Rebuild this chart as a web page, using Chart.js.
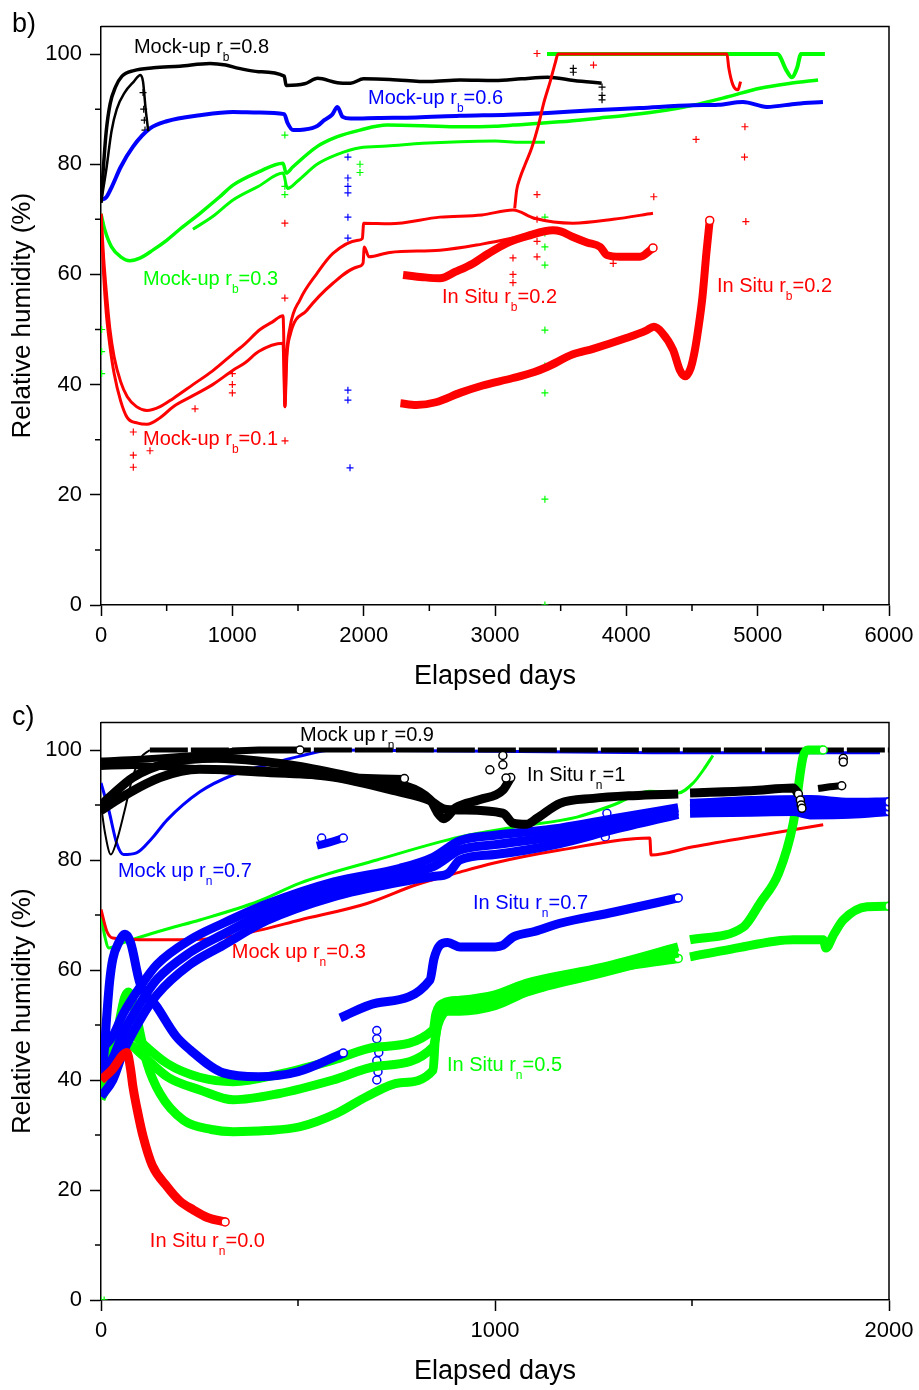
<!DOCTYPE html>
<html>
<head>
<meta charset="utf-8">
<script src="https://cdn.jsdelivr.net/npm/chart.js@4.4.1/dist/chart.umd.min.js"></script>
<style>
  body { margin: 0; background: #fff; width: 919px; height: 1390px; overflow: hidden; }
  .panel { position: absolute; left: 0; width: 919px; height: 695px; }
</style>
</head>
<body>
<div class="panel" style="top:0"><canvas id="chartB" width="919" height="695"></canvas></div>
<div class="panel" style="top:695px"><canvas id="chartC" width="919" height="695"></canvas></div>
<script>
const FONT = "'Liberation Sans', Arial, sans-serif";
const RED = '#ff0000', GREEN = '#00ff00', BLUE = '#0000ff', BLACK = '#000000';

// ---------- panel b) data : [elapsed day, RH %] ----------
const bMock08 = [[0,73],[20,80],[40,86],[70,91],[110,94],[160,96],[250,97],[400,97.5],[600,97.8],[830,98.3],[950,98],[1050,97.4],[1200,96.8],[1395,96],[1410,94.3],[1550,94.6],[1650,95.6],[1800,94.8],[1900,94.7],[2000,95.5],[2200,95.4],[2500,95],[2733,95.3],[3000,95.2],[3200,95.5],[3400,95.8],[3600,95.2],[3812,94.7]];
const bMock08early = [[0,73],[40,79],[80,86],[120,90],[180,93],[250,95],[300,96.2],[320,95],[340,90],[360,86]];
const bMock06 = [[0,73.5],[40,74],[84,76],[150,79.5],[244,83.2],[373,86.5],[500,87.8],[754,88.9],[1005,89.5],[1200,89.4],[1395,89.1],[1420,87.5],[1462,86.2],[1550,86.3],[1650,87],[1700,88],[1760,89],[1800,90.4],[1840,88.6],[1900,88.3],[2110,88.4],[2400,88.5],[2733,88.8],[3100,89],[3400,89.3],[3746,89.8],[4100,90.2],[4507,90.7],[4700,90.8],[4888,91.3],[5070,90.4],[5300,91],[5497,91.3]];
const bMock03a = [[0,71],[30,68],[80,65],[150,63.2],[220,62.5],[300,63],[400,64.5],[500,66.2],[600,68.2],[754,71.1],[900,74],[1005,76.2],[1200,78.6],[1386,80.2],[1410,78.4],[1460,79.5],[1645,83.2],[1800,85],[1972,86.2],[2178,87.1],[2450,87],[2733,86.8],[3000,86.9],[3137,87.1],[3495,87.7],[3800,88.4],[4005,88.9],[4300,89.8],[4507,90.7],[4766,92.2],[5018,93.8],[5250,94.7],[5460,95.3]];
const bMock03b = [[700,68.2],[850,70.5],[1005,73.5],[1200,76],[1386,78.4],[1420,75.6],[1500,77],[1645,80],[1800,81.8],[1972,83],[2178,83.3],[2450,83.8],[2733,84.1],[3000,84.2],[3200,84],[3380,84]];
const bMock03c = [[3396,100],[4000,100],[4800,100],[5150,100],[5220,97],[5260,95.8],[5300,97.5],[5330,100],[5512,100]];
const bMock01a = [[0,71],[20,63],[40,57],[68,50],[100,45],[150,40.5],[200,37.8],[270,36],[350,35.3],[450,36],[550,37.5],[700,40],[850,42.5],[1000,45.5],[1100,47.5],[1211,50],[1300,51.3],[1386,52.5],[1395,44],[1400,36],[1410,44],[1440,50.5],[1515,55.4],[1645,60.2],[1766,63.8],[1957,66.2],[1990,66.5],[2000,69.3],[2200,69.2],[2581,70.4],[2900,70.8],[3137,71.7],[3300,70.2],[3594,69.3],[3900,70],[4203,71.1]];
const bMock01b = [[0,71],[20,60],[40,53],[68,47],[100,42],[150,37],[200,34],[280,33],[350,32.8],[450,34],[550,36],[700,38],[850,40],[1005,42.6],[1100,44],[1200,46],[1386,47.5],[1395,40],[1400,36],[1415,45],[1440,49],[1568,53.5],[1766,58.4],[1957,61.4],[1995,62],[2005,65],[2040,63.2],[2200,64],[2581,64.4],[2900,65.5],[3137,66.6],[3300,67.5],[3442,68]];
const bMock02 = [[3150,72],[3165,75.3],[3190,77.5],[3230,80],[3280,83],[3330,87],[3370,91],[3420,95],[3460,98.5],[3480,100],[4000,100],[4766,100],[4780,97.5],[4810,94.5],[4850,93.5],[4870,95]];
const bSitu02a = [[2300,59.9],[2450,59.5],[2581,59.3],[2700,60.5],[2833,62],[2950,63.8],[3091,65.7],[3250,67],[3442,68],[3500,67.8],[3594,66.8],[3700,65.8],[3800,65],[3853,63.5],[3950,63.2],[4104,63.2],[4203,64.8]];
const bSitu02b = [[2280,36.6],[2400,36.3],[2550,36.8],[2733,38.5],[2900,39.8],[3137,41.2],[3300,42.3],[3396,43.2],[3594,45.5],[3746,46.5],[4005,48.5],[4150,49.8],[4210,50.5],[4270,49.5],[4356,46.3],[4410,42.5],[4447,41.5],[4490,43],[4520,46],[4547,50],[4580,56],[4610,64],[4635,69.8]];
const bOutRed = [[246,31.4],[246,27.2],[246,25],[373,28],[716,35.6],[1000,42],[1000,40],[1000,38.5],[1401,29.8],[1400,69.3],[1400,55.7],[3137,63],[3137,60],[3137,58.5],[3320,74.5],[3320,70],[3320,66],[3320,63.2],[3320,100.1],[3750,98],[4209,74.1],[4531,84.5],[4903,86.8],[4900,81.3],[4910,69.6],[3900,62]];
const bOutBlue = [[1896,24.9],[1880,39],[1880,37.2],[1880,74.8],[1880,70.4],[1880,66.6],[1880,81.3],[1880,77.5],[1880,76]];
const bOutGreen = [[3380,0],[3380,19.2],[3380,38.5],[3380,43.4],[3380,49.9],[3380,61.7],[3380,65],[3380,67.5],[3380,70.4],[1400,85.3],[1400,76],[1400,74.5],[1972,80],[1972,78.5],[5,50],[5,46],[5,42]];
const bOutBlack = [[320,93],[325,90],[330,88],[335,86.2],[3596,97.4],[3596,96.7],[3815,94],[3815,92.5],[3815,91.7]];

// ---------- panel c) data ----------
const cMock09rise = [[0,90],[10,85],[25,81],[40,83.5],[60,89],[80,95],[100,98.5],[124,100]];
const cMock09top = [[124,100],[2000,100]];
const cMock07 = [[0,94],[20,89],[40,83],[57,81],[90,81.3],[130,84],[168,87.3],[251,92.4],[336,95.5],[421,97.3],[500,98.8],[589,100],[1400,99.5],[1977,99.5]];
const cMock05 = [[0,70],[10,66],[20,64],[50,64.8],[100,66],[170,67.5],[251,69.1],[400,72.5],[505,75.8],[700,80],[911,84.2],[1050,86],[1208,87.8],[1300,90],[1393,92.5],[1465,92.2],[1503,94],[1530,96.5],[1553,99]];
const cMock03 = [[0,71],[15,67],[30,65.8],[100,65.5],[200,65.5],[300,65.8],[400,67.2],[505,69.1],[675,72.1],[800,75.5],[911,77.8],[995,79.4],[1165,81.8],[1393,84],[1396,80.9],[1503,82.4],[1673,84.5],[1833,86.4]];
const cSitu1a = [[0,98],[100,98.3],[200,98.8],[300,99.5],[400,100],[505,100]];
const cSitu1b = [[0,97],[80,97.2],[200,96.8],[400,95.8],[600,95.2],[770,94.8]];
const cSitu1c = [[0,90],[23,91.5],[81,95],[168,97.6],[294,98.5],[400,98],[505,97],[675,94.5],[835,91],[855,88.5],[870,87.5],[900,89.5],[962,91],[1020,92.7],[1040,95]];
const cSitu1d = [[0,89],[50,91.3],[150,95],[250,96.5],[400,96.2],[589,95.1],[750,92.5],[835,90.8],[870,89.3],[911,89.1],[1020,88.5],[1046,86.7],[1080,86.5],[1107,87.6],[1165,90.3],[1249,91.2],[1350,91.7],[1465,92],[1480,null],[1495,92.2],[1650,92.6],[1757,93.1],[1770,92]];
const cSitu1e = [[1820,93],[1850,93.3],[1880,93.5]];
const cSitu07a = [[0,40],[8,45],[15,52],[22,58],[30,62],[45,65],[61,66.5],[75,65],[99,57.6],[142,53.3],[190,48],[226,45.5],[310,41.3],[400,40.6],[500,41.5],[615,44.9]];
const cSitu07b = [[0,45.5],[30,48],[56,52],[100,57],[142,61],[226,65.5],[310,68.5],[421,72],[589,76],[759,78.5],[843,80.5],[911,83.5],[1000,84.5],[1165,85.8],[1300,87.5],[1465,89.5],[1480,null],[1495,90.3],[1650,90.8],[1800,91],[1900,90.5],[2000,90.6]];
const cSitu07c = [[0,41],[30,44],[56,48.5],[100,54],[142,58.3],[226,63.2],[310,66.5],[421,70.5],[589,74.7],[759,77.3],[843,78.8],[911,81.8],[1000,82.8],[1165,84.4],[1300,86.5],[1465,88.9],[1480,null],[1495,89.4],[1650,89.8],[1800,89.6],[1900,89.4],[2000,89.7]];
const cSitu07d = [[0,37],[30,40],[56,45],[100,51],[142,55.5],[226,61],[310,64.5],[421,69],[589,73.3],[759,76],[843,77],[880,77.5],[911,80],[1000,81],[1165,83],[1300,85.5],[1465,88.3],[1480,null],[1495,88.5],[1650,88.7],[1757,88.8],[1800,88.2],[1900,88.3],[2000,88.8]];
const cSitu07e = [[607,51.3],[700,54],[835,58.2],[845,62],[860,64.5],[880,65],[911,64.2],[1000,64.2],[1020,64.5],[1046,66],[1100,67],[1165,68.5],[1300,70.5],[1465,73.1]];
const cSitu07f = [[548,82.6],[580,83.2],[615,84]];
const cSitu05a = [[0,40],[30,46],[56,50],[100,47],[168,43],[250,40.5],[336,39.7],[450,41],[589,43.6],[700,46],[843,49.1],[850,52],[870,54],[911,54.5],[1000,55.5],[1081,57.6],[1274,60.5],[1465,64.2],[1480,null],[1495,65.5],[1630,67.8],[1673,72.2],[1720,77.6],[1757,86.7],[1782,98.8],[1795,100],[1833,100]];
const cSitu05b = [[0,38],[40,44],[70,46.5],[99,44.9],[170,40.5],[251,38.2],[336,36.4],[450,37.5],[589,40],[700,42.5],[843,46],[855,50],[880,52.5],[911,52.5],[1000,53.5],[1081,56],[1274,59.5],[1465,63.1],[1480,null],[1495,62.4],[1600,63.8],[1757,65.5],[1833,65.5],[1840,64],[1860,66.5],[1884,69.1],[1944,71.5],[2000,71.6]];
const cSitu05c = [[0,36.5],[20,40],[45,50],[60,55],[70,56],[85,53],[117,43],[150,37.5],[209,32.7],[280,31],[336,30.6],[420,30.8],[505,31.5],[600,34],[675,37],[760,39.5],[843,41.8],[848,47],[860,52],[880,53.5],[911,53.5],[1000,54],[1081,57],[1274,60],[1465,62.1]];
const cSitu00 = [[0,40],[30,42],[55,44.5],[66,45],[75,42],[81,38.8],[95,33.5],[107,29.7],[130,24.5],[168,20.6],[200,18],[234,16.4],[270,15],[315,14.2]];
const cRingBlack = [[987,96.4],[1020,99],[1020,97.3],[1028,94.9],[1884,98.5],[1884,97.8],[1775,90.9],[1777,90],[1779,89.4]];
const cRingBlue = [[1284,88.5],[1284,86.5],[1290,85.5],[1280,84.2],[700,49],[700,47.5],[705,45],[700,43.5],[703,41.5],[700,40],[560,84]];
const cDotGreen = [[0,0],[8,0]];

// ---------- axes ----------
const bTicksX = { max: 6000, step: 1000, minor: [500,1500,2500,3500,4500,5500] };
const cTicksX = { max: 2000, step: 1000, minor: [500,1500] };
const minorY = [10,30,50,70,90];

// ---------- curve labels (anchor in data units) ----------
const bNotes = [
  { x: 251,  y: 100.2, a: 'Mock-up r', s: 'b', b: '=0.8', c: BLACK },
  { x: 2033, y: 90.9,  a: 'Mock-up r', s: 'b', b: '=0.6', c: BLUE },
  { x: 320,  y: 58.1,  a: 'Mock-up r', s: 'b', b: '=0.3', c: GREEN },
  { x: 320,  y: 29,    a: 'Mock-up r', s: 'b', b: '=0.1', c: RED },
  { x: 2596, y: 54.8,  a: 'In Situ r', s: 'b', b: '=0.2', c: RED },
  { x: 4690, y: 56.8,  a: 'In Situ r', s: 'b', b: '=0.2', c: RED }
];
const cNotes = [
  { x: 505,  y: 101.6, a: 'Mock up r', s: 'n', b: '=0.9', c: BLACK },
  { x: 1081, y: 94.4,  a: 'In Situ r', s: 'n', b: '=1',   c: BLACK },
  { x: 43,   y: 76.9,  a: 'Mock up r', s: 'n', b: '=0.7', c: BLUE },
  { x: 332,  y: 62.2,  a: 'Mock up r', s: 'n', b: '=0.3', c: RED },
  { x: 944,  y: 71.1,  a: 'In Situ r', s: 'n', b: '=0.7', c: BLUE },
  { x: 878,  y: 41.6,  a: 'In Situ r', s: 'n', b: '=0.5', c: GREEN },
  { x: 124,  y: 9.6,   a: 'In Situ r', s: 'n', b: '=0.0', c: RED }
];

const toXY = arr => arr.map(p => ({ x: p[0], y: p[1] }));

function trace(arr, color, width, extra) {
  return Object.assign({
    data: toXY(arr), showLine: true, borderColor: color, backgroundColor: color,
    borderWidth: width, pointRadius: 0, cubicInterpolationMode: 'monotone', spanGaps: false
  }, extra || {});
}
// in situ series end with an open circle
function situ(arr, color, width) {
  const last = arr.length - 1;
  return trace(arr, color, width, {
    pointRadius: c => c.dataIndex === last ? 4 : 0,
    pointBackgroundColor: '#fff', pointBorderColor: color, pointBorderWidth: 1.5
  });
}
function crosses(arr, color) {
  return { data: toXY(arr), showLine: false, pointStyle: 'cross', pointRadius: 3.5, borderColor: color, borderWidth: 1.2 };
}
function rings(arr, color) {
  return { data: toXY(arr), showLine: false, pointStyle: 'circle', pointRadius: 4, borderColor: color, backgroundColor: '#fff', borderWidth: 1.5 };
}
// list is back-to-front; lower order is drawn on top
function stack(list) {
  list.forEach((d, i) => { d.order = list.length - i; });
  return list;
}

const framePlugin = {
  id: 'frame',
  afterDraw(chart, args, o) {
    const { ctx, chartArea: a } = chart;
    const x = chart.scales.x, y = chart.scales.y;
    ctx.save();
    ctx.strokeStyle = '#000';
    ctx.lineWidth = 1.5;
    ctx.beginPath();
    ctx.moveTo(a.left, a.top); ctx.lineTo(a.right, a.top); ctx.lineTo(a.right, a.bottom);
    o.minorX.forEach(v => { const p = x.getPixelForValue(v); ctx.moveTo(p, a.bottom); ctx.lineTo(p, a.bottom + 6); });
    o.minorY.forEach(v => { const p = y.getPixelForValue(v); ctx.moveTo(a.left, p); ctx.lineTo(a.left - 6, p); });
    ctx.stroke();
    ctx.fillStyle = '#000';
    ctx.font = '27px ' + FONT;
    ctx.textBaseline = 'alphabetic';
    ctx.fillText(o.tag, 12, o.tagY);
    ctx.restore();
  }
};

const notesPlugin = {
  id: 'notes',
  afterDatasetsDraw(chart, args, o) {
    const { ctx } = chart;
    const x = chart.scales.x, y = chart.scales.y;
    ctx.save();
    ctx.textBaseline = 'alphabetic';
    o.items.forEach(n => {
      let px = x.getPixelForValue(n.x);
      const py = y.getPixelForValue(n.y);
      ctx.fillStyle = n.c;
      ctx.font = '20px ' + FONT;
      ctx.fillText(n.a, px, py);
      px += ctx.measureText(n.a).width;
      ctx.font = '12px ' + FONT;
      ctx.fillText(n.s, px, py + 8);
      px += ctx.measureText(n.s).width;
      ctx.font = '20px ' + FONT;
      ctx.fillText(n.b, px, py);
    });
    ctx.restore();
  }
};

function makeChart(id, datasets, tx, notes, tag, tagY, padTop) {
  return new Chart(document.getElementById(id), {
    type: 'scatter',
    data: { datasets },
    plugins: [framePlugin, notesPlugin],
    options: {
      responsive: false,
      animation: false,
      layout: { padding: { top: padTop, right: 30, bottom: 2, left: 0 } },
      plugins: {
        legend: { display: false },
        tooltip: { enabled: false },
        frame: { minorX: tx.minor, minorY: minorY, tag: tag, tagY: tagY },
        notes: { items: notes }
      },
      scales: {
        x: {
          type: 'linear', min: 0, max: tx.max,
          afterFit: s => { s.height = 88; s.paddingRight = 0; },
          ticks: { stepSize: tx.step, color: '#000', padding: 7, font: { size: 22, family: FONT }, callback: v => String(v) },
          grid: { drawOnChartArea: false, drawTicks: true, tickLength: 11, tickColor: '#000', tickWidth: 1.5 },
          border: { display: true, color: '#000', width: 1.5 },
          title: { display: true, text: 'Elapsed days', color: '#000', font: { size: 27, family: FONT }, padding: { top: 0, bottom: 0 } }
        },
        y: {
          type: 'linear', min: 0, max: 105,
          afterFit: s => { s.width = 101; },
          afterBuildTicks: s => { s.ticks = s.ticks.filter(t => t.value % 20 === 0); },
          ticks: { stepSize: 20, color: '#000', padding: 8, font: { size: 22, family: FONT }, callback: v => String(v) },
          grid: { drawOnChartArea: false, drawTicks: true, tickLength: 11, tickColor: '#000', tickWidth: 1.5 },
          border: { display: true, color: '#000', width: 1.5 },
          title: { display: true, text: 'Relative humidity (%)', color: '#000', font: { size: 26, family: FONT }, padding: { top: 7, bottom: 0 } }
        }
      }
    }
  });
}

makeChart('chartB', stack([
  crosses(bOutGreen, GREEN), crosses(bOutBlue, BLUE), crosses(bOutRed, RED), crosses(bOutBlack, BLACK),
  trace(bMock03c, GREEN, 4),
  trace(bMock03b, GREEN, 3), trace(bMock03a, GREEN, 3.5),
  trace(bMock06, BLUE, 4),
  trace(bMock08early, BLACK, 2.5), trace(bMock08, BLACK, 3.5),
  trace(bMock01a, RED, 3), trace(bMock01b, RED, 3),
  trace(bMock02, RED, 3),
  situ(bSitu02a, RED, 8), situ(bSitu02b, RED, 8)
]), bTicksX, bNotes, 'b)', 32, 26.5);

makeChart('chartC', stack([
  rings(cRingBlue, BLUE), crosses(cDotGreen, GREEN),
  trace(cMock05, GREEN, 3), trace(cMock03, RED, 3),
  trace(cMock07, BLUE, 3),
  trace(cMock09rise, BLACK, 2), trace(cMock09top, BLACK, 5, { borderDash: [38, 3] }),
  situ(cSitu05c, GREEN, 9), situ(cSitu05b, GREEN, 9), situ(cSitu05a, GREEN, 9),
  situ(cSitu07d, BLUE, 9), situ(cSitu07c, BLUE, 9), situ(cSitu07b, BLUE, 9),
  situ(cSitu07e, BLUE, 9), situ(cSitu07f, BLUE, 8), situ(cSitu07a, BLUE, 9),
  situ(cSitu1d, BLACK, 9), situ(cSitu1c, BLACK, 9), situ(cSitu1b, BLACK, 7), situ(cSitu1a, BLACK, 7), situ(cSitu1e, BLACK, 7),
  rings(cRingBlack, BLACK),
  situ(cSitu00, RED, 9)
]), cTicksX, cNotes, 'c)', 30, 27.5);
</script>
</body>
</html>
